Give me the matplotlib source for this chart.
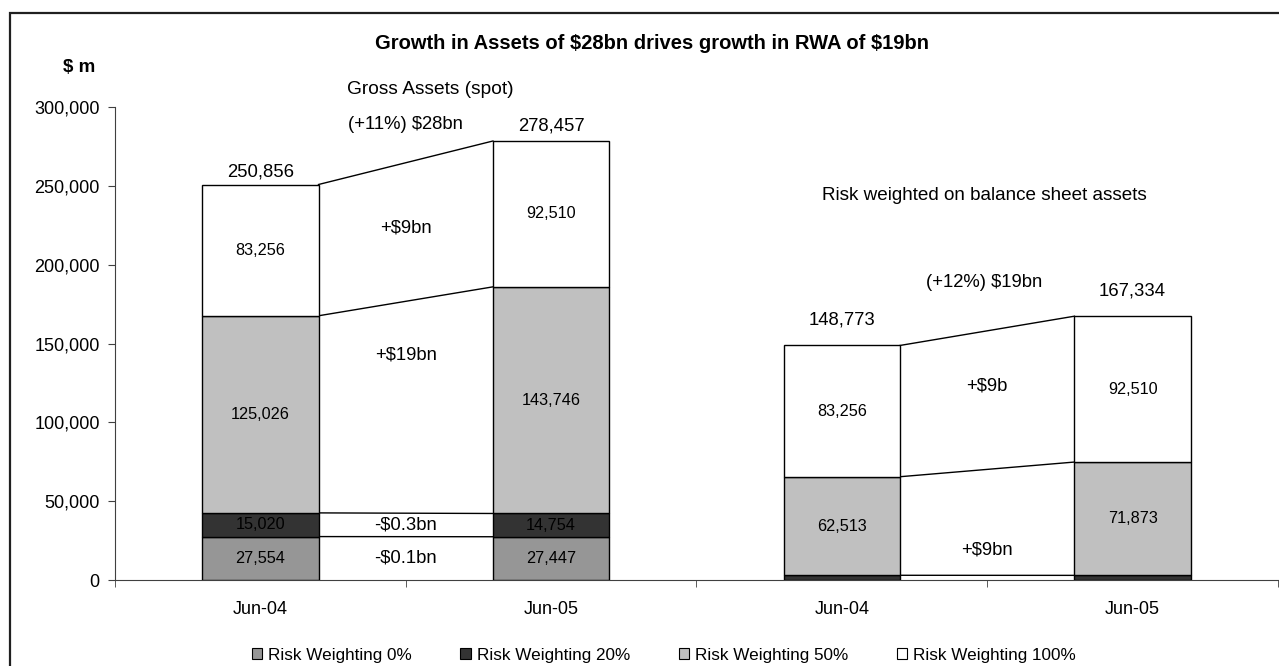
#Grafico de barras apiladas: activos brutos y ponderados por riesgo
import matplotlib.pyplot as plt
from matplotlib.patches import Patch, Rectangle
import numpy as np

plt.rcParams['font.family'] = ['Liberation Sans', 'DejaVu Sans']

#Datos
periodos = ["Jun-04", "Jun-05", "Jun-04", "Jun-05"]
series = ["Risk Weighting 0%", "Risk Weighting 20%", "Risk Weighting 50%", "Risk Weighting 100%"]
rw_0 = [27554, 27447, 0, 0]
rw_20 = [15020, 14754, 3004, 2951]
rw_50 = [125026, 143746, 62513, 71873]
rw_100 = [83256, 92510, 83256, 92510]
totales = [250856, 278457, 148773, 167334]

colores = ['#969696', '#333333', '#c0c0c0', '#ffffff']
fs = 13.3

fig = plt.figure(figsize=(12.79, 6.66), dpi=100)
ax = fig.add_axes([0.0899, 0.1291, 0.9093, 0.7102])

x = np.arange(len(periodos))
ancho = 0.4
capas = [rw_0, rw_20, rw_50, rw_100]
base = np.zeros(len(periodos))
bordes = []
for valores, color, nombre in zip(capas, colores, series):
    ax.bar(x, valores, ancho, bottom=base, color=color, edgecolor='black',
           linewidth=1, label=nombre, zorder=3)
    base = base + np.array(valores)
    bordes.append(base.copy())

#Lineas entre barras
for i in [0, 2]:
    for b in bordes:
        if b[i] > 0:
            ax.plot([x[i] + ancho / 2, x[i + 1] - ancho / 2], [b[i], b[i + 1]],
                    color='black', linewidth=1, zorder=2)

#Etiquetas dentro de las barras
for valores, b in zip(capas, bordes):
    for i in range(len(periodos)):
        if valores[i] > 10000:
            ax.text(x[i], b[i] - valores[i] / 2, f"{valores[i]:,}", ha='center',
                    va='center', fontsize=11.7, zorder=4)

#Totales
desplaz = [9, 11, 18, 18]
for i in range(len(periodos)):
    ax.annotate(f"{totales[i]:,}", (x[i], totales[i]), xytext=(0, desplaz[i]),
                textcoords='offset points', ha='center', va='center', fontsize=fs)

#Textos de variacion
ax.text(0.5, 288600, "(+11%) \\$28bn", ha='center', va='center', fontsize=fs)
ax.text(0.585, 311400, "Gross Assets (spot)", ha='center', va='center', fontsize=13.8,
        clip_on=False)
ax.text(0.5, 223000, "+\\$9bn", ha='center', va='center', fontsize=fs)
ax.text(0.5, 142700, "+\\$19bn", ha='center', va='center', fontsize=fs)
ax.text(0.5, 35000, "-\\$0.3bn", ha='center', va='center', fontsize=fs)
ax.text(0.5, 13700, "-\\$0.1bn", ha='center', va='center', fontsize=fs)
ax.text(2.49, 244200, "Risk weighted on balance sheet assets", ha='center',
        va='center', fontsize=13.6)
ax.text(2.49, 188400, "(+12%) \\$19bn", ha='center', va='center', fontsize=fs)
ax.text(2.5, 123000, "+\\$9b", ha='center', va='center', fontsize=fs)
ax.text(2.5, 19000, "+\\$9bn", ha='center', va='center', fontsize=fs)

#Ejes
ax.set_xlim(-0.5, 3.5)
ax.set_ylim(0, 300000)
ax.set_yticks(np.arange(0, 300001, 50000))
ax.set_yticklabels([f"{v:,}" for v in range(0, 300001, 50000)], fontsize=13)
ax.set_xticks(x)
ax.set_xticklabels(periodos, fontsize=13)
ax.set_xticks(np.arange(-0.5, 3.6, 1), minor=True)
ax.tick_params(axis='x', which='major', length=0, pad=15)
ax.tick_params(axis='x', which='minor', length=5, direction='out', color='#404040')
ax.tick_params(axis='y', length=5, direction='out', color='#404040', pad=6)
for s in ['top', 'right']:
    ax.spines[s].set_visible(False)
for s in ['left', 'bottom']:
    ax.spines[s].set_color('#404040')

fig.text(0.51, 0.935, "Growth in Assets of \\$28bn drives growth in RWA of \\$19bn",
         ha='center', va='center', fontsize=14.5, fontweight='bold')
fig.text(0.049, 0.899, "\\$ m", ha='left', va='center', fontsize=13.5, fontweight='bold')

#Leyenda
manejadores = [Patch(facecolor=c, edgecolor='black', linewidth=0.8) for c in colores]
fig.legend(manejadores, series, loc='center', bbox_to_anchor=(0.519, 0.0165), ncol=4,
           frameon=False, fontsize=12.3, handlelength=0.6, handleheight=0.6,
           handletextpad=0.35, columnspacing=2.85)

#Marco
fig.add_artist(Rectangle((10 / 1279, -0.1), 1.2, 0.1 + (666 - 13) / 666,
                         transform=fig.transFigure, fill=False, edgecolor='#202020',
                         linewidth=1.6))

plt.savefig("out.png", dpi=100)
